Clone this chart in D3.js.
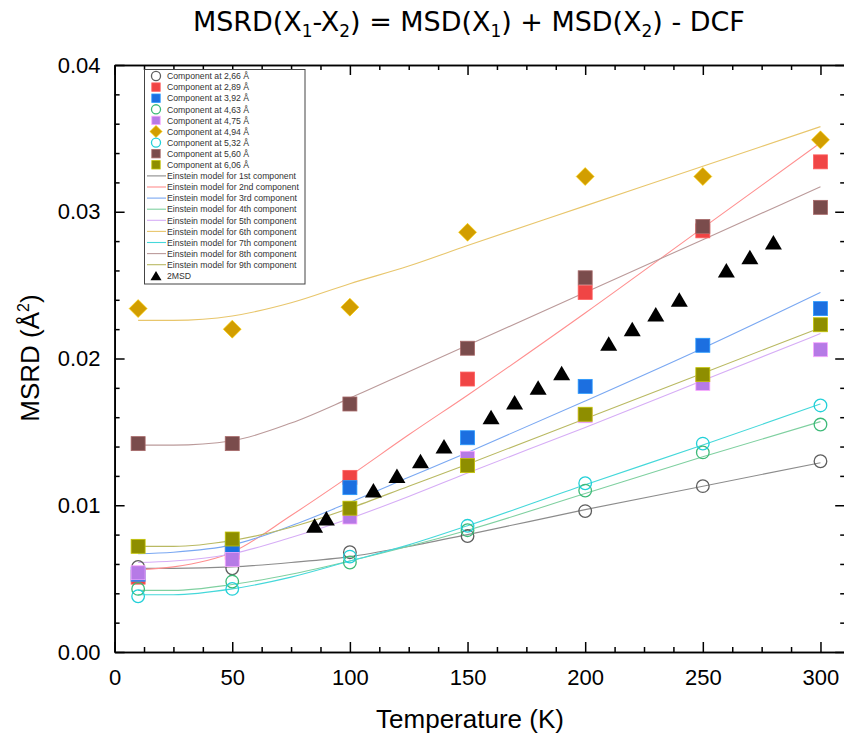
<!DOCTYPE html>
<html><head><meta charset="utf-8">
<script src="https://cdn.jsdelivr.net/npm/d3@7"></script>
<style>body{margin:0;background:#fff} svg{display:block}</style>
</head><body><svg id="c" width="844" height="736"></svg>
<script>
// ---------------- DATA ----------------
const temps = [10, 50, 100, 150, 200, 250, 300];
const comp266 = [0.0058, 0.0057, 0.0068, 0.0079, 0.0096, 0.0113, 0.0130];
const comp289 = [0.0051, 0.0068, 0.0119, 0.0186, 0.0245, 0.0287, 0.0334];
const comp392 = [0.0053, 0.0071, 0.0112, 0.0146, 0.0181, 0.0209, 0.0234];
const comp463 = [0.0043, 0.0048, 0.0061, 0.0083, 0.0110, 0.0136, 0.0155];
const comp475 = [0.0054, 0.0063, 0.0092, 0.0132, 0.0161, 0.0183, 0.0206];
const comp494 = [0.0234, 0.0220, 0.0235, 0.0286, 0.0324, 0.0324, 0.0349];
const comp532 = [0.0038, 0.0043, 0.0065, 0.0086, 0.0115, 0.0142, 0.0168];
const comp560 = [0.0142, 0.0142, 0.0169, 0.0207, 0.0255, 0.0290, 0.0303];
const comp606 = [0.0072, 0.0077, 0.0098, 0.0127, 0.0162, 0.0189, 0.0223];

const modelTemps = [10, 25, 50, 75, 100, 125, 150, 200, 250, 300];
const model1 = [0.0057, 0.0057, 0.0058, 0.0061, 0.0065, 0.0072, 0.0080, 0.0097, 0.0113, 0.0129];
const model2 = [0.0056, 0.0058, 0.0068, 0.0093, 0.0120, 0.0148, 0.0175, 0.0231, 0.0289, 0.0347];
const model3 = [0.0067, 0.0068, 0.0073, 0.0086, 0.0102, 0.0119, 0.0136, 0.0171, 0.0207, 0.0245];
const model4 = [0.0042, 0.0042, 0.0046, 0.0053, 0.0062, 0.0072, 0.0083, 0.0108, 0.0133, 0.0157];
const model5 = [0.0061, 0.0062, 0.0067, 0.0078, 0.0091, 0.0106, 0.0122, 0.0153, 0.0185, 0.0217];
const model6 = [0.0226, 0.0226, 0.0229, 0.0238, 0.0251, 0.0263, 0.0277, 0.0304, 0.0331, 0.0358];
const model7 = [0.0039, 0.0039, 0.0043, 0.0051, 0.0062, 0.0073, 0.0086, 0.0114, 0.0141, 0.0169];
const model8 = [0.0141, 0.0141, 0.0144, 0.0156, 0.0173, 0.0191, 0.0209, 0.0245, 0.0281, 0.0317];
const model9 = [0.0072, 0.0072, 0.0076, 0.0085, 0.0098, 0.0113, 0.0128, 0.0159, 0.0190, 0.0221];

const msdTemps  = [85, 90, 110, 120, 130, 140, 160, 170, 180, 190, 210, 220, 230, 240, 260, 270, 280];
const msdValues = [0.0086, 0.0091, 0.0110, 0.0120, 0.0130, 0.0140, 0.0160, 0.0170, 0.0180, 0.0190, 0.0210, 0.0220, 0.0230, 0.0240, 0.0260, 0.0269, 0.0279];

const xMajorTicks = [0, 50, 100, 150, 200, 250, 300];
const yMajorTicks = [0, 0.01, 0.02, 0.03, 0.04];

const componentLabels = ["Component at 2,66 Å", "Component at 2,89 Å", "Component at 3,92 Å",
  "Component at 4,63 Å", "Component at 4,75 Å", "Component at 4,94 Å", "Component at 5,32 Å",
  "Component at 5,60 Å", "Component at 6,06 Å"];
const modelLabels = ["Einstein model for 1st component", "Einstein model for 2nd component",
  "Einstein model for 3rd component", "Einstein model for 4th component", "Einstein model for 5th component",
  "Einstein model for 6th component", "Einstein model for 7th component", "Einstein model for 8th component",
  "Einstein model for 9th component"];
const msdLabel = "2MSD";
const xTitle = "Temperature (K)";

// ---------------- STYLE ----------------
const compSeries = [comp266, comp289, comp392, comp463, comp475, comp494, comp532, comp560, comp606];
const modelSeries = [model1, model2, model3, model4, model5, model6, model7, model8, model9];
const compStyle = [
  {shape: "circle", color: "#5e5e5e"},
  {shape: "square", color: "#f04545"},
  {shape: "square", color: "#1c6fe0"},
  {shape: "circle", color: "#3dba78"},
  {shape: "square", color: "#b67ae6"},
  {shape: "diamond", color: "#d29e00"},
  {shape: "circle", color: "#22d0d8"},
  {shape: "square", color: "#7a4c4c"},
  {shape: "square", color: "#8e8e00"}
];
const modelColor = ["#8c8c8c", "#ff8f8f", "#7aa8f2", "#7fd0a0", "#d6adf6", "#e8c66c", "#45d8da", "#bb9a9a", "#b9b962"];

const svg = d3.select("#c");
const FONT = "'Liberation Sans', Arial, sans-serif";

const x = d3.scaleLinear().domain([0, 310]).range([114.6, 844]);
const y = d3.scaleLinear().domain([0, 0.04]).range([652, 65]);

// ---------------- AXES ----------------
function styleAxis(g) {
  g.selectAll("path.domain").attr("stroke", "#000").attr("stroke-width", 1.6);
  g.selectAll(".tick line").attr("stroke", "#000").attr("stroke-width", 1.5);
  g.selectAll(".tick text").attr("font-family", FONT).attr("font-size", 22).attr("fill", "#000");
}
const xMinor = d3.range(0, 311, 12.5).filter(v => v % 50 !== 0);
const yMinor = d3.range(0, 0.0401, 0.002).filter(v => Math.abs(v * 100 - Math.round(v * 100)) > 1e-6);

// bottom
svg.append("g").attr("transform", `translate(0,${y(0)})`)
  .call(d3.axisBottom(x).tickValues(xMinor).tickSize(-5).tickSizeOuter(0).tickFormat(""))
  .call(styleAxis);
svg.append("g").attr("transform", `translate(0,${y(0)})`)
  .call(d3.axisBottom(x).tickValues(xMajorTicks).tickSize(-10).tickSizeOuter(0).tickPadding(17).tickFormat(d3.format("d")))
  .call(styleAxis);
// top
svg.append("g").attr("transform", `translate(0,${y(0.04)})`)
  .call(d3.axisTop(x).tickValues(xMinor).tickSize(-5).tickSizeOuter(0).tickFormat(""))
  .call(styleAxis);
svg.append("g").attr("transform", `translate(0,${y(0.04)})`)
  .call(d3.axisTop(x).tickValues(xMajorTicks).tickSize(-10).tickSizeOuter(0).tickFormat(""))
  .call(styleAxis);
// left
svg.append("g").attr("transform", `translate(${x(0)},0)`)
  .call(d3.axisLeft(y).tickValues(yMinor).tickSize(-5).tickSizeOuter(0).tickFormat(""))
  .call(styleAxis);
svg.append("g").attr("transform", `translate(${x(0)},0)`)
  .call(d3.axisLeft(y).tickValues(yMajorTicks).tickSize(-10).tickSizeOuter(0).tickPadding(14).tickFormat(d3.format(".2f")))
  .call(styleAxis);
// right (axis line sits just past the picture edge)
svg.append("g").attr("transform", `translate(${x(310) + 1.2},0)`)
  .call(d3.axisRight(y).tickValues(yMinor).tickSize(-5).tickSizeOuter(0).tickFormat(""))
  .call(styleAxis);
svg.append("g").attr("transform", `translate(${x(310) + 1.2},0)`)
  .call(d3.axisRight(y).tickValues(yMajorTicks).tickSize(-10).tickSizeOuter(0).tickFormat(""))
  .call(styleAxis);

// axis titles
svg.append("text").attr("x", 470).attr("y", 728).attr("text-anchor", "middle")
  .attr("font-family", FONT).attr("font-size", 26).attr("fill", "#000").text(xTitle);
const yt = svg.append("text").attr("transform", "translate(39,358) rotate(-90)").attr("text-anchor", "middle")
  .attr("font-family", FONT).attr("font-size", 26).attr("fill", "#000");
yt.append("tspan").text("MSRD (Å");
yt.append("tspan").attr("font-size", 16).attr("dy", -10).text("2");
yt.append("tspan").attr("dy", 10).text(")");

// title
const title = svg.append("text").attr("text-anchor", "start")
  .attr("font-family", "'DejaVu Sans Condensed', 'DejaVu Sans', sans-serif").attr("font-stretch", "condensed")
  .attr("font-size", 27).attr("fill", "#000");
const tparts = [["MSRD(X", 0], ["1", 1], ["-X", 0], ["2", 1], [") = MSD(X", 0], ["1", 1], [") + MSD(X", 0], ["2", 1], [") - DCF", 0]];
let prevSub = 0;
tparts.forEach(([t, sub]) => {
  const ts = title.append("tspan").text(t);
  if (sub) { ts.attr("font-size", 17).attr("dy", 6); }
  else if (prevSub) { ts.attr("dy", -6); }
  prevSub = sub;
});
const tw = title.node().getComputedTextLength();
const targetW = 552;
title.attr("transform", `translate(193,30.5) scale(${targetW / tw},1)`);

// ---------------- MARKS ----------------
const line = d3.line().x((d, i) => x(modelTemps[i])).y(d => y(d)).curve(d3.curveMonotoneX);
const gLines = svg.append("g");
modelSeries.forEach((s, k) => {
  gLines.append("path").attr("d", line(s)).attr("fill", "none")
    .attr("stroke", modelColor[k]).attr("stroke-width", 1.1);
});

function drawMarker(g, shape, color, cx, cy, scale) {
  const s = scale || 1;
  if (shape === "circle") {
    g.append("circle").attr("cx", cx).attr("cy", cy).attr("r", 6.3 * s)
      .attr("fill", "none").attr("stroke", color).attr("stroke-width", 1.3);
  } else if (shape === "square") {
    const h = 7 * s;
    g.append("rect").attr("x", cx - h).attr("y", cy - h).attr("width", 2 * h).attr("height", 2 * h)
      .attr("fill", color).attr("stroke", d3.color(color).brighter(0.9)).attr("stroke-width", 0.8);
  } else if (shape === "diamond") {
    const h = 9 * s;
    g.append("path").attr("d", `M${cx},${cy - h}L${cx + h},${cy}L${cx},${cy + h}L${cx - h},${cy}Z`)
      .attr("fill", color).attr("stroke", d3.color(color).brighter(0.8)).attr("stroke-width", 0.6);
  } else if (shape === "triangle") {
    const w = 8.5 * s, t = 7.5 * s, b = 7 * s;
    g.append("path").attr("d", `M${cx},${cy - t}L${cx + w},${cy + b}L${cx - w},${cy + b}Z`)
      .attr("fill", color);
  }
}

const gPts = svg.append("g");
compSeries.forEach((s, k) => {
  s.forEach((v, i) => drawMarker(gPts, compStyle[k].shape, compStyle[k].color, x(temps[i]), y(v)));
});
msdValues.forEach((v, i) => drawMarker(gPts, "triangle", "#000", x(msdTemps[i]), y(v)));

// ---------------- LEGEND ----------------
const lg = svg.append("g");
lg.append("rect").attr("x", 144.5).attr("y", 69.5).attr("width", 160.5).attr("height", 214.5)
  .attr("fill", "#fff").attr("stroke", "#444").attr("stroke-width", 1);
const rowY = i => 76 + 11.1 * i;
const legText = (i, t) => lg.append("text").attr("x", 167).attr("y", rowY(i) + 3.2)
  .attr("font-family", FONT).attr("font-size", 8.7).attr("fill", "#333").text(t);
componentLabels.forEach((t, k) => {
  drawMarker(lg, compStyle[k].shape, compStyle[k].color, 156, rowY(k), compStyle[k].shape === "circle" ? 0.72 : (compStyle[k].shape === "diamond" ? 0.68 : 0.6));
  legText(k, t);
});
modelLabels.forEach((t, k) => {
  const i = k + 9;
  lg.append("line").attr("x1", 147).attr("x2", 166).attr("y1", rowY(i)).attr("y2", rowY(i))
    .attr("stroke", modelColor[k]).attr("stroke-width", 1.1);
  legText(i, t);
});
drawMarker(lg, "triangle", "#000", 156, rowY(18), 0.65);
legText(18, msdLabel);
</script></body></html>
